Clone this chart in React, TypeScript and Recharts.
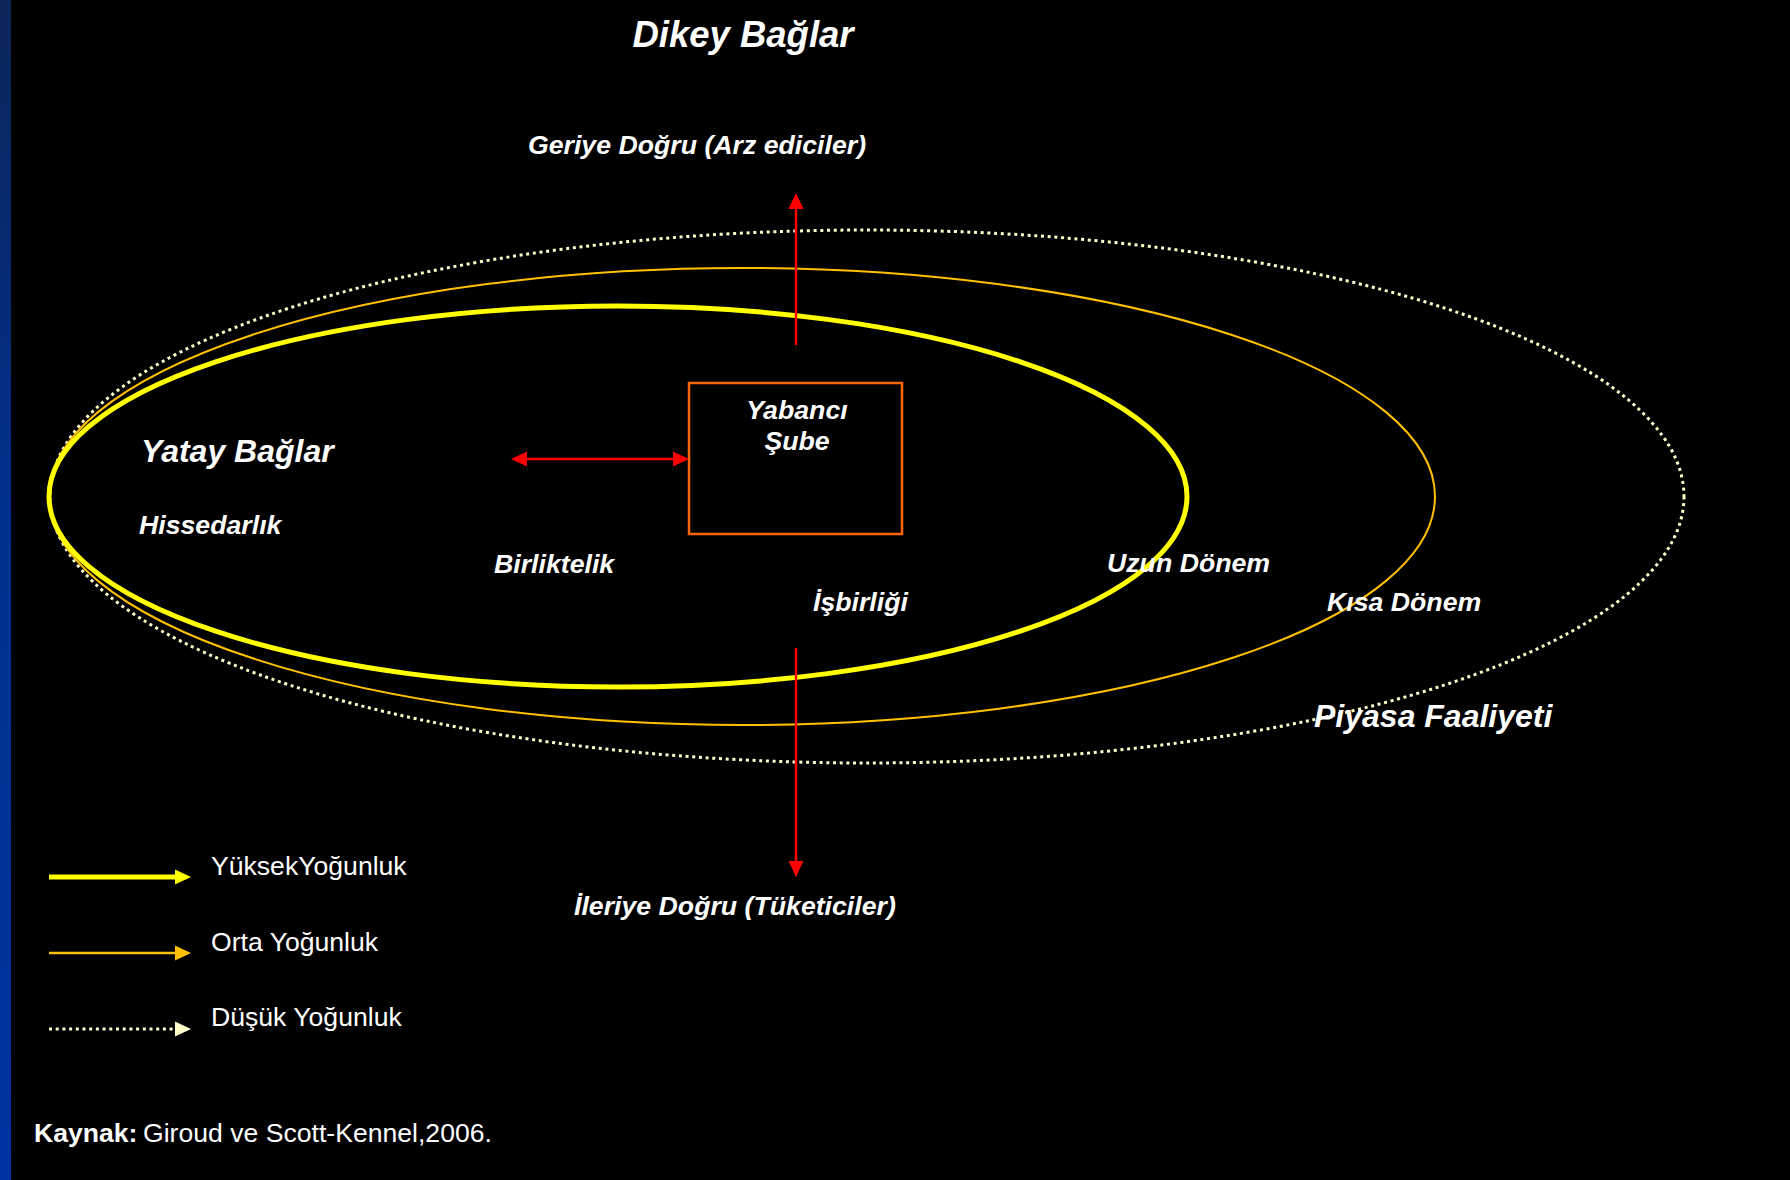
import React from 'react';
import { ComposedChart, XAxis, YAxis, Scatter, ReferenceArea, ReferenceLine } from 'recharts';

const W = 1790;
const H = 1180;

// Intensity rings (ellipses) – extents in diagram units
const ringNames = ['Yüksek Yoğunluk', 'Orta Yoğunluk', 'Düşük Yoğunluk'];
const ringX1 = [49, 49, 50];
const ringX2 = [1187, 1435, 1684];
const ringY1 = [306, 268, 230];
const ringY2 = [687, 725, 763];

// Foreign branch box
const boxX = [689, 902];
const boxY = [383, 534];

// Link arrows (horizontal, backward, forward)
const arrowNames = ['Yatay', 'Geriye', 'İleriye'];
const arrowFrom = [{ x: 511, y: 459 }, { x: 796, y: 345 }, { x: 796, y: 648 }];
const arrowTo = [{ x: 689, y: 459 }, { x: 796, y: 193 }, { x: 796, y: 877 }];
const arrowBoth = [true, false, false];

// Legend
const legendLabels = ['YüksekYoğunluk', 'Orta Yoğunluk', 'Düşük Yoğunluk'];
const legendRowY = [877, 953, 1029];
const legendLineX = [49, 191];
const legendTextX = 211;

// Text labels
const labels = [
  { text: 'Dikey Bağlar', x: 743, y: 47, role: 'title' },
  { text: 'Geriye Doğru (Arz ediciler)', x: 697, y: 154, role: 'itemMid' },
  { text: 'Yatay Bağlar', x: 141, y: 462, role: 'heading' },
  { text: 'Hissedarlık', x: 139, y: 534, role: 'item' },
  { text: 'Birliktelik', x: 494, y: 573, role: 'item' },
  { text: 'Yabancı', x: 797, y: 419, role: 'itemMid' },
  { text: 'Şube', x: 797, y: 450, role: 'itemMid' },
  { text: 'İşbirliği', x: 813, y: 611, role: 'item' },
  { text: 'Uzun Dönem', x: 1107, y: 572, role: 'item' },
  { text: 'Kısa Dönem', x: 1327, y: 611, role: 'item' },
  { text: 'Piyasa Faaliyeti', x: 1314, y: 727, role: 'heading' },
  { text: 'İleriye Doğru (Tüketiciler)', x: 574, y: 915, role: 'item' },
  { text: legendLabels[0], x: legendTextX, y: 875, role: 'legend' },
  { text: legendLabels[1], x: legendTextX, y: 951, role: 'legend' },
  { text: legendLabels[2], x: legendTextX, y: 1026, role: 'legend' },
  { text: 'Kaynak:', x: 34, y: 1142, role: 'sourceBold' },
  { text: 'Giroud ve Scott-Kennel,2006.', x: 143, y: 1142, role: 'legend' },
];

const FONT = '"Liberation Sans", Arial, Helvetica, sans-serif';

const textStyles: Record<string, any> = {
  title: { fontSize: 36.5, fontWeight: 700, fontStyle: 'italic', anchor: 'middle' },
  heading: { fontSize: 32, fontWeight: 700, fontStyle: 'italic', anchor: 'start' },
  item: { fontSize: 26.7, fontWeight: 700, fontStyle: 'italic', anchor: 'start' },
  itemMid: { fontSize: 26.7, fontWeight: 700, fontStyle: 'italic', anchor: 'middle' },
  legend: { fontSize: 26.6, fontWeight: 400, fontStyle: 'normal', anchor: 'start' },
  sourceBold: { fontSize: 26.6, fontWeight: 700, fontStyle: 'normal', anchor: 'start' },
};

const ringStyles = [
  { stroke: '#ffff00', width: 5, dash: undefined as string | undefined },
  { stroke: '#ffc000', width: 2, dash: undefined as string | undefined },
  { stroke: '#ffffcc', width: 3, dash: '3 3.7' },
];

const RED = '#ff0000';

function makeArrow(color: string, width: number, dash: string | undefined, both: boolean, headLen = 16, headHalf = 7.5) {
  return (p: any) => {
    const { x1, y1, x2, y2 } = p;
    const dx = x2 - x1;
    const dy = y2 - y1;
    const len = Math.hypot(dx, dy) || 1;
    const ux = dx / len;
    const uy = dy / len;
    const nx = -uy;
    const ny = ux;
    const sx = both ? x1 + ux * headLen : x1;
    const sy = both ? y1 + uy * headLen : y1;
    const ex = x2 - ux * headLen;
    const ey = y2 - uy * headLen;
    const head = (tx: number, ty: number, bx: number, by: number) =>
      `${tx},${ty} ${bx + nx * headHalf},${by + ny * headHalf} ${bx - nx * headHalf},${by - ny * headHalf}`;
    return (
      <g>
        <line x1={sx} y1={sy} x2={ex} y2={ey} stroke={color} strokeWidth={width} strokeDasharray={dash} />
        <polygon points={head(x2, y2, ex, ey)} fill={color} />
        {both && <polygon points={head(x1, y1, sx, sy)} fill={color} />}
      </g>
    );
  };
}

const renderLabel = (p: any) => {
  const d = p.payload;
  const s = textStyles[d.role];
  return (
    <text
      x={p.cx}
      y={p.cy}
      fill="#ffffff"
      fontFamily={FONT}
      fontSize={s.fontSize}
      fontWeight={s.fontWeight}
      fontStyle={s.fontStyle}
      textAnchor={s.anchor}
    >
      {d.text}
    </text>
  );
};

export default function App() {
  const ringOrder = [2, 1, 0];
  return (
    <div style={{ position: 'absolute', left: 0, top: 0, width: W, height: H, background: '#000000', overflow: 'hidden' }}>
      <div
        style={{
          position: 'absolute',
          left: 0,
          top: 0,
          width: 11,
          height: H,
          background: 'linear-gradient(to bottom, #0b2558 0%, #00308f 45%, #0033a0 100%)',
        }}
      />
      <div style={{ position: 'absolute', left: 0, top: 0 }}>
        <ComposedChart width={W} height={H} margin={{ top: 0, right: 0, bottom: 0, left: 0 }}>
          <XAxis type="number" dataKey="x" domain={[0, W]} hide allowDataOverflow />
          <YAxis type="number" dataKey="y" domain={[0, H]} reversed hide allowDataOverflow />

          {ringOrder.map((i) => (
            <ReferenceArea
              key={ringNames[i]}
              x1={ringX1[i]}
              x2={ringX2[i]}
              y1={ringY1[i]}
              y2={ringY2[i]}
              ifOverflow="visible"
              shape={(p: any) => (
                <ellipse
                  cx={p.x + p.width / 2}
                  cy={p.y + p.height / 2}
                  rx={p.width / 2}
                  ry={p.height / 2}
                  fill="none"
                  stroke={ringStyles[i].stroke}
                  strokeWidth={ringStyles[i].width}
                  strokeDasharray={ringStyles[i].dash}
                />
              )}
            />
          ))}

          <ReferenceArea
            x1={boxX[0]}
            x2={boxX[1]}
            y1={boxY[0]}
            y2={boxY[1]}
            ifOverflow="visible"
            shape={(p: any) => (
              <rect x={p.x} y={p.y} width={p.width} height={p.height} fill="none" stroke="#ff6600" strokeWidth={2.5} />
            )}
          />

          {arrowNames.map((n, i) => (
            <ReferenceLine
              key={n}
              segment={[arrowFrom[i], arrowTo[i]]}
              ifOverflow="visible"
              shape={makeArrow(RED, 2.5, undefined, arrowBoth[i], 16, 7.5)}
            />
          ))}

          {legendLabels.map((n, i) => (
            <ReferenceLine
              key={'lg' + n}
              segment={[
                { x: legendLineX[0], y: legendRowY[i] },
                { x: legendLineX[1], y: legendRowY[i] },
              ]}
              ifOverflow="visible"
              shape={makeArrow(ringStyles[i].stroke, ringStyles[i].width === 2 ? 2.5 : ringStyles[i].width, ringStyles[i].dash, false, 16, 7.5)}
            />
          ))}

          <Scatter data={labels} isAnimationActive={false} shape={renderLabel} />
        </ComposedChart>
      </div>
    </div>
  );
}
